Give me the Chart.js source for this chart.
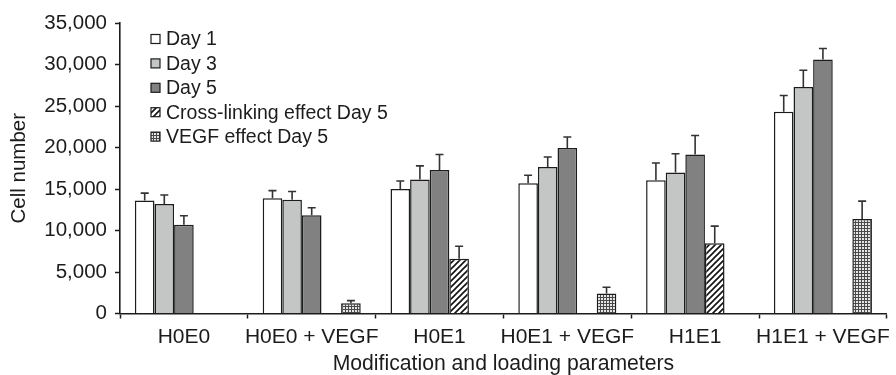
<!DOCTYPE html>
<html>
<head>
<meta charset="utf-8">
<title>Cell number by modification and loading parameters</title>
<script src="https://cdn.jsdelivr.net/npm/chart.js@4.4.1/dist/chart.umd.min.js"></script>
<style>
  html, body { margin: 0; padding: 0; background: #fff; }
  #wrap { width: 896px; height: 375px; }
</style>
</head>
<body>
<div id="wrap"><canvas id="chart" width="896" height="375"></canvas></div>
<script>
// Groups along the x axis
const categories = ['H0E0', 'H0E0 + VEGF', 'H0E1', 'H0E1 + VEGF', 'H1E1', 'H1E1 + VEGF'];

// Mean cell numbers and their standard deviations (upper whiskers)
const day1 = [13600, 13900, 15000, 15700, 16050, 24300];
const day1Err = [900, 900, 960, 960, 2080, 1970];
const day3 = [13200, 13700, 16150, 17650, 17000, 27300];
const day3Err = [1080, 1000, 1640, 1200, 2250, 2000];
const day5 = [10700, 11850, 17300, 19950, 19150, 30600];
const day5Err = [1080, 900, 1850, 1320, 2290, 1330];
const crossLink = [null, null, 6600, null, 8450, null];
const crossLinkErr = [null, null, 1500, null, 2080, null];
const vegf = [null, 1250, null, 2400, null, 11400];
const vegfErr = [null, 300, null, 770, null, 2140];

// Y axis tick values
const yTicks = [0, 5000, 10000, 15000, 20000, 25000, 30000, 35000];

const INK = '#1c1c1c';
const FONT = "'Liberation Sans', Arial, Helvetica, sans-serif";

// Diagonal hatch fill
function hatchPattern() {
  const c = document.createElement('canvas');
  c.width = 6; c.height = 6;
  const g = c.getContext('2d');
  g.fillStyle = '#fff';
  g.fillRect(0, 0, 6, 6);
  g.strokeStyle = '#111';
  g.lineWidth = 1.6;
  g.beginPath();
  g.moveTo(-1, 7); g.lineTo(7, -1);
  g.moveTo(-4, 4); g.lineTo(4, -4);
  g.moveTo(2, 10); g.lineTo(10, 2);
  g.stroke();
  return g.createPattern(c, 'repeat');
}

// Fine grid fill
function gridPattern() {
  const c = document.createElement('canvas');
  c.width = 3; c.height = 3;
  const g = c.getContext('2d');
  g.fillStyle = '#e6e6e6';
  g.fillRect(0, 0, 3, 3);
  g.fillStyle = '#4a4a4a';
  g.fillRect(0, 0, 3, 1);
  g.fillRect(0, 0, 1, 3);
  return g.createPattern(c, 'repeat');
}

const hatch = hatchPattern();
const grid = gridPattern();

function series(label, data, errors, fill) {
  return {
    label, data, errors,
    backgroundColor: fill,
    borderColor: INK,
    borderWidth: 1.5,
    borderSkipped: 'bottom',
    categoryPercentage: 0.767,
    barPercentage: 1.0
  };
}

// Upper error whiskers with a short cap
const errorBars = {
  id: 'errorBars',
  afterDatasetsDraw(chart) {
    const ctx = chart.ctx;
    const y = chart.scales.y;
    ctx.save();
    ctx.strokeStyle = '#333';
    ctx.lineWidth = 1.6;
    chart.data.datasets.forEach((ds, di) => {
      const meta = chart.getDatasetMeta(di);
      meta.data.forEach((bar, i) => {
        const v = ds.data[i], e = ds.errors[i];
        if (v == null || e == null) return;
        const top = y.getPixelForValue(v + e);
        ctx.beginPath();
        ctx.moveTo(bar.x, bar.y);
        ctx.lineTo(bar.x, top);
        ctx.moveTo(bar.x - 4, top);
        ctx.lineTo(bar.x + 4, top);
        ctx.stroke();
      });
    });
    ctx.restore();
  }
};

// Legend stacked in the upper left of the plot area
const boxLegend = {
  id: 'boxLegend',
  afterDraw(chart) {
    const ctx = chart.ctx;
    const area = chart.chartArea;
    const x0 = area.left + 31;
    let yc = area.top + 16;
    const step = 24.4;
    const box = 9;
    ctx.save();
    ctx.font = '19.5px ' + FONT;
    ctx.textBaseline = 'middle';
    ctx.textAlign = 'left';
    chart.data.datasets.forEach(ds => {
      ctx.fillStyle = ds.backgroundColor;
      ctx.fillRect(x0, yc - box / 2, box, box);
      ctx.strokeStyle = INK;
      ctx.lineWidth = 1.2;
      ctx.strokeRect(x0, yc - box / 2, box, box);
      ctx.fillStyle = INK;
      ctx.fillText(ds.label, x0 + 15, yc + 1);
      yc += step;
    });
    ctx.restore();
  }
};

new Chart(document.getElementById('chart'), {
  type: 'bar',
  data: {
    labels: categories,
    datasets: [
      series('Day 1', day1, day1Err, '#ffffff'),
      series('Day 3', day3, day3Err, '#c4c6c5'),
      series('Day 5', day5, day5Err, '#818181'),
      series('Cross-linking effect Day 5', crossLink, crossLinkErr, hatch),
      series('VEGF effect Day 5', vegf, vegfErr, grid)
    ]
  },
  options: {
    responsive: false,
    devicePixelRatio: 1,
    animation: false,
    layout: { padding: { top: 23, right: 3, left: 0, bottom: 0 } },
    plugins: {
      legend: { display: false },
      tooltip: { enabled: false }
    },
    scales: {
      x: {
        grid: {
          offset: true,
          drawOnChartArea: false,
          drawTicks: true,
          tickLength: 5,
          tickWidth: 1.5,
          tickColor: INK
        },
        border: { display: true, color: INK, width: 1.6 },
        ticks: {
          color: INK,
          padding: 6,
          maxRotation: 0,
          autoSkip: false,
          font: { family: FONT, size: 21 }
        },
        title: {
          display: true,
          text: 'Modification and loading parameters',
          color: INK,
          padding: { top: 4, bottom: 0 },
          font: { family: FONT, size: 21.2, lineHeight: 1.0 }
        },
        afterFit(scale) { scale.height = 61.5; }
      },
      y: {
        min: 0,
        max: 35000,
        afterBuildTicks(scale) { scale.ticks = yTicks.map(v => ({ value: v })); },
        grid: {
          drawOnChartArea: false,
          drawTicks: true,
          tickLength: 5,
          tickWidth: 1.5,
          tickColor: INK
        },
        border: { display: true, color: INK, width: 1.6 },
        ticks: {
          color: INK,
          padding: 8,
          font: { family: FONT, size: 20.5 },
          callback: v => v.toLocaleString('en-US')
        },
        title: {
          display: true,
          text: 'Cell number',
          color: INK,
          padding: { top: 7, bottom: 0 },
          font: { family: FONT, size: 20.5 }
        },
        afterFit(scale) { scale.width = 120; }
      }
    }
  },
  plugins: [errorBars, boxLegend]
});
</script>
</body>
</html>
